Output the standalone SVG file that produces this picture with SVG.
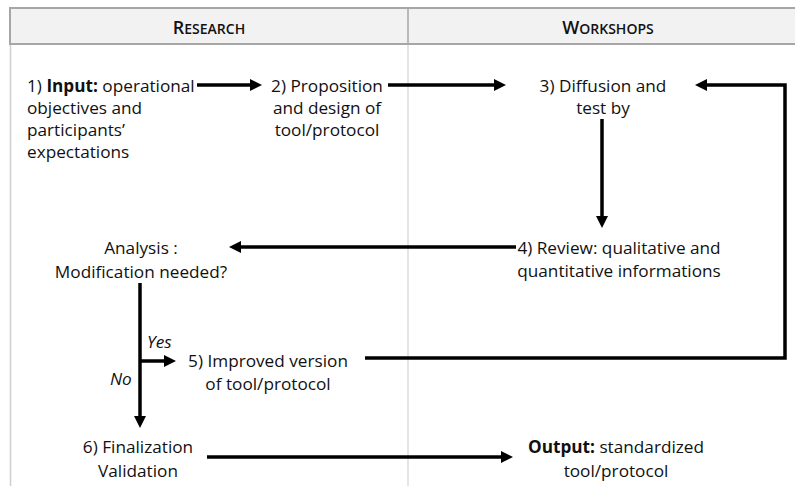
<svg xmlns="http://www.w3.org/2000/svg" width="795" height="486" viewBox="0 0 795 486">
<defs>
<style>
.t{font-family:"Open Sans","Liberation Sans",sans-serif;font-size:17.2px;fill:#111}
.c{text-anchor:middle}
.h{font-family:"Open Sans","Liberation Sans",sans-serif;font-weight:600;fill:#111;text-anchor:middle;font-size:18px}
.sc{font-size:14px}
.i{font-style:italic}
.b{font-weight:bold}
.ln{fill:none;stroke:#000;stroke-width:3.5;marker-end:url(#ah)}
</style>
<marker id="ah" markerUnits="userSpaceOnUse" markerWidth="13" markerHeight="13" refX="0" refY="6" orient="auto" viewBox="0 0 13 12">
<path d="M0,0 L12,6 L0,12 z" fill="#000"/>
</marker>
</defs>
<rect width="795" height="486" fill="#fff"/>
<g id="table">
<line x1="10.5" y1="44" x2="10.5" y2="486" stroke="#cfcfcf" stroke-width="1.5"/>
<line x1="408" y1="44" x2="408" y2="486" stroke="#d4d4d4" stroke-width="1.2"/>
<rect x="10" y="8" width="800" height="36" fill="#f2f2f2" stroke="#a6a6a6" stroke-width="2"/>
<line x1="408" y1="8" x2="408" y2="44" stroke="#a6a6a6" stroke-width="1.5"/>
</g>
<g id="header-research"><text class="h" x="209" y="34">R<tspan class="sc">ESEARCH</tspan></text></g>
<g id="header-workshops"><text class="h" x="608" y="34">W<tspan class="sc">ORKSHOPS</tspan></text></g>
<g id="n1"><text class="t" x="27" y="92">1) <tspan class="b">Input:</tspan> operational</text><text class="t" x="27" y="114">objectives and</text><text class="t" x="27" y="136">participants’</text><text class="t" x="27" y="158">expectations</text></g>
<g id="n2"><text class="t c" x="327" y="92">2) Proposition</text><text class="t c" x="327" y="114">and design of</text><text class="t c" x="327" y="136">tool/protocol</text></g>
<g id="n3"><text class="t c" x="603" y="92">3) Diffusion and</text><text class="t c" x="603" y="114">test by</text></g>
<g id="n4"><text class="t c" x="619" y="254">4) Review: qualitative and</text><text class="t c" x="619" y="277">quantitative informations</text></g>
<g id="analysis"><text class="t c" x="141" y="254">Analysis :</text><text class="t c" x="141" y="278">Modification needed?</text></g>
<g id="n5"><text class="t c" x="268" y="367">5) Improved version</text><text class="t c" x="268" y="390">of tool/protocol</text></g>
<g id="n6"><text class="t c" x="138" y="453">6) Finalization</text><text class="t c" x="138" y="477">Validation</text></g>
<g id="output"><text class="t c" x="616" y="453"><tspan class="b">Output:</tspan> standardized</text><text class="t c" x="616" y="477">tool/protocol</text></g>
<g id="labels"><text class="t i" x="147" y="348">Yes</text><text class="t i" x="110" y="385">No</text></g>
<g id="connectors">
<path class="ln" d="M197 85 H250"/>
<path class="ln" d="M388 85 H494"/>
<path class="ln" d="M602 119 V216"/>
<path class="ln" d="M365 358 H785 V85 H707"/>
<path class="ln" d="M516 247 H241"/>
<path class="ln" d="M140 283 V416"/>
<path class="ln" d="M140 361 H164"/>
<path class="ln" d="M207 457 H501"/>
</g>
</svg>
